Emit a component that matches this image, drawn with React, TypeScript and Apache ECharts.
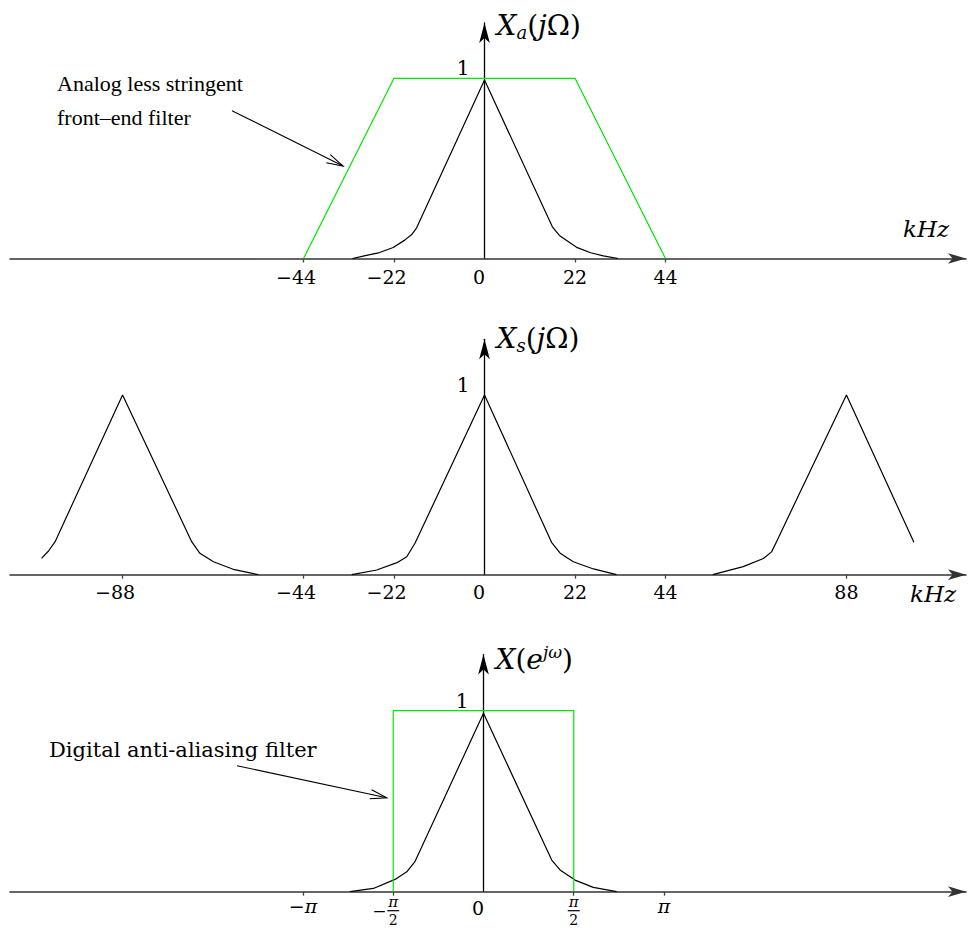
import { useEffect, useRef } from 'react';
import * as echarts from 'echarts';

// ---- spectra (x in kHz for the top two panels, in units of π for the bottom one) ----
const analogSpectrum: [number, number][] = [
  [-32.1, 0], [-28.7, 0.017], [-25.5, 0.033], [-22.2, 0.061], [-19.4, 0.102], [-17.7, 0.133], [-16.5, 0.17],
  [0, 0.99],
  [16.5, 0.176], [18.2, 0.128], [20.6, 0.09], [22.4, 0.062], [25.8, 0.032], [28.9, 0.015], [32.5, 0],
];
const analogFilter: [number, number][] = [[-44, 0], [-22, 1], [22, 1], [44, 0]];

const sampledLeftImage: [number, number][] = [
  [-107.7, 0.091], [-106.0, 0.132], [-104.4, 0.184], [-88, 1], [-71.2, 0.184],
  [-69.2, 0.119], [-65.9, 0.072], [-61.1, 0.03], [-55.0, 0],
];
const sampledBaseband: [number, number][] = [
  [-32.3, 0], [-26.2, 0.026], [-21.3, 0.067], [-18.9, 0.1], [-16.9, 0.175],
  [0, 1],
  [16.3, 0.18], [18.4, 0.12], [21.6, 0.072], [26.5, 0.032], [32.1, 0],
];
const sampledRightImage: [number, number][] = [
  [55.5, 0], [62.9, 0.045], [67.8, 0.09], [69.8, 0.127], [71.0, 0.184], [88, 1], [104.4, 0.18],
];

const digitalSpectrum: [number, number][] = [
  [-0.74, 0], [-0.61, 0.018], [-0.49, 0.068], [-0.425, 0.11], [-0.38, 0.166],
  [0, 0.986],
  [0.378, 0.175], [0.424, 0.12], [0.507, 0.064], [0.608, 0.024], [0.738, 0],
];
const digitalFilter: [number, number][] = [[-0.5, 0], [-0.5, 1], [0.5, 1], [0.5, 0]];

// ---- ticks ----
const analogTicks = [-44, -22, 0, 22, 44];
const sampledTicks = [-88, -44, -22, 0, 22, 44, 88];
const digitalTicks = [-1, -0.5, 0, 0.5, 1];
const digitalTickLabels = ['−π', '−π/2', '0', 'π/2', 'π'];
const peakTicks = [1];

// ---- axis extents ----
const kHzRange: [number, number] = [-115.37, 117.07];
const piRange: [number, number] = [-2.623, 2.673];

const FONT = 'DejaVu Serif';
const GREEN = '#00e800';
const GRID_LEFT = 10;
const GRID_WIDTH = 956;

const numberRich = {
  neg: { fontFamily: FONT, fontSize: 19, lineHeight: 20, color: '#000', padding: [0, 15, 0, 0] },
  pos: { fontFamily: FONT, fontSize: 19, lineHeight: 20, color: '#000' },
  zero: { fontFamily: FONT, fontSize: 19, lineHeight: 20, color: '#000', padding: [0, 11, 0, 0] },
};

const fracRich = {
  zero: { fontFamily: FONT, fontSize: 19, lineHeight: 24, color: '#000', padding: [0, 11, 0, 0] },
  pm: { fontFamily: FONT, fontSize: 19, lineHeight: 20, color: '#000' },
  pi: { fontFamily: FONT, fontSize: 19, lineHeight: 20, color: '#000', fontStyle: 'italic' },
  fn: { fontFamily: FONT, fontSize: 15, lineHeight: 13, width: 12, align: 'center', color: '#000', fontStyle: 'italic' },
  fd: { fontFamily: FONT, fontSize: 14, lineHeight: 14, width: 12, align: 'center', color: '#000' },
  fb: { width: 12, height: 1.2, lineHeight: 4, backgroundColor: '#000', fontSize: 4 },
  fm: { fontFamily: FONT, fontSize: 17, lineHeight: 4, width: 15, align: 'left', color: '#000' },
  fp: { width: 15, lineHeight: 4, fontSize: 4 },
};

const kHzFormatter = (v: number) => {
  if (v < 0) return `{neg|−${-v}}`;
  if (v === 0) return '{zero|0}';
  return `{pos|${v}}`;
};

const piFormatter = (v: number) => {
  const label = digitalTickLabels[digitalTicks.indexOf(v)] ?? '';
  switch (label) {
    case '0':
      return '{zero|0}';
    case '−π':
      return '{pm|−}{pi|π}';
    case 'π':
      return '{pi|π}';
    case 'π/2':
      return '{fn|π}\n{fb| }\n{fd|2}';
    case '−π/2':
      return '{fp| }{fn|π}{fp| }\n{fm|−}{fb| }{fp| }\n{fp| }{fd|2}{fp| }';
    default:
      return label;
  }
};

const nameRich = {
  i: { fontFamily: FONT, fontSize: 28, fontStyle: 'italic', lineHeight: 32, color: '#000' },
  r: { fontFamily: FONT, fontSize: 28, lineHeight: 32, color: '#000' },
  sub: { fontFamily: FONT, fontSize: 18, fontStyle: 'italic', lineHeight: 14, verticalAlign: 'bottom', color: '#000' },
  sup: { fontFamily: FONT, fontSize: 17, fontStyle: 'italic', lineHeight: 14, verticalAlign: 'top', color: '#000' },
};

function xAxisBase(gridIndex: number, range: [number, number], ticks: number[], formatter: (v: number) => string, rich: any, margin: number) {
  return {
    type: 'value',
    gridIndex,
    min: range[0],
    max: range[1],
    axisLine: {
      show: true,
      onZero: true,
      symbol: ['none', 'arrow'],
      symbolSize: [8, 18],
      lineStyle: { color: '#333', width: 1.6 },
    },
    axisTick: {
      show: true,
      customValues: ticks.filter((t) => t !== 0),
      length: 4,
      lineStyle: { color: '#444', width: 1.3 },
    },
    axisLabel: {
      show: true,
      customValues: ticks,
      margin,
      formatter,
      rich,
    },
    splitLine: { show: false },
  };
}

// vertical axis placed on x = 0 of its panel's horizontal axis
function yAxisBase(gridIndex: number, range: [number, number], max: number, name: string, nameGap: number) {
  const zeroOffset = ((0 - range[0]) / (range[1] - range[0])) * GRID_WIDTH;
  return {
    type: 'value',
    gridIndex,
    position: 'left',
    offset: -zeroOffset,
    min: 0,
    max,
    name,
    nameLocation: 'end',
    nameGap,
    nameTextStyle: { align: 'left', verticalAlign: 'middle', padding: [0, 0, 0, 12], rich: nameRich },
    axisLine: {
      show: true,
      onZero: false,
      symbol: ['none', 'arrow'],
      symbolSize: [8, 20],
      lineStyle: { color: '#000', width: 1.3 },
    },
    axisTick: { show: false },
    axisLabel: {
      show: true,
      customValues: peakTicks,
      margin: 15,
      verticalAlign: 'bottom',
      fontFamily: FONT,
      fontSize: 20,
      lineHeight: 20,
      color: '#000',
    },
    splitLine: { show: false },
  };
}

function curve(data: [number, number][], axis: number, color: string, width = 1.2) {
  return {
    type: 'line',
    xAxisIndex: axis,
    yAxisIndex: axis,
    data,
    showSymbol: false,
    symbol: 'none',
    silent: true,
    lineStyle: { color, width },
  };
}

function pointer(x1: number, y1: number, x2: number, y2: number, len = 17, spread = 0.27) {
  const a = Math.atan2(y2 - y1, x2 - x1);
  const back = (s: number) => [x2 - len * Math.cos(a + s), y2 - len * Math.sin(a + s)];
  return [
    { type: 'line', shape: { x1, y1, x2, y2 }, style: { stroke: '#000', lineWidth: 1.1 } },
    {
      type: 'polyline',
      shape: { points: [back(spread), [x2, y2], back(-spread)] },
      style: { stroke: '#000', lineWidth: 1.1, fill: null },
    },
  ];
}

function note(text: string, x: number, y: number, font: string) {
  return { type: 'text', x, y, style: { text, font, fill: '#000', align: 'left', verticalAlign: 'middle' } };
}

export default function App() {
  const ref = useRef<HTMLDivElement>(null);

  useEffect(() => {
    if (!ref.current) return;
    const chart = echarts.init(ref.current, undefined, { renderer: 'svg' });

    chart.setOption({
      animation: false,
      backgroundColor: '#fff',
      grid: [
        { left: GRID_LEFT, top: 23, width: GRID_WIDTH, height: 235.5, outerBoundsMode: 'none', containLabel: false },
        { left: GRID_LEFT, top: 339.3, width: GRID_WIDTH, height: 235.4, outerBoundsMode: 'none', containLabel: false },
        { left: GRID_LEFT, top: 654.6, width: GRID_WIDTH, height: 237.1, outerBoundsMode: 'none', containLabel: false },
      ],
      xAxis: [
        xAxisBase(0, kHzRange, analogTicks, kHzFormatter, numberRich, 8),
        xAxisBase(1, kHzRange, sampledTicks, kHzFormatter, numberRich, 7),
        xAxisBase(2, piRange, digitalTicks, piFormatter, fracRich, 4),
      ],
      yAxis: [
        yAxisBase(0, kHzRange, 1.307, '{i|X}{sub|a}{r|(}{i|j}{r|Ω)}', -2),
        yAxisBase(1, kHzRange, 1.31, '{i|X}{sub|s}{r|(}{i|j}{r|Ω)}', 1),
        yAxisBase(2, piRange, 1.31, '{i|X}{r|(}{i|e}{sup|jω}{r|)}', -5),
      ],
      series: [
        curve(analogSpectrum, 0, '#000'),
        curve(analogFilter, 0, GREEN),
        curve(sampledLeftImage, 1, '#000'),
        curve(sampledBaseband, 1, '#000'),
        curve(sampledRightImage, 1, '#000'),
        curve(digitalSpectrum, 2, '#000'),
        curve(digitalFilter, 2, GREEN),
      ],
      graphic: [
        note('Analog less stringent', 57, 83, '22px "Liberation Serif"'),
        note('front–end filter', 57, 117, '22px "Liberation Serif"'),
        ...pointer(232, 110.7, 343, 166),
        note('Digital anti-aliasing filter', 49, 750, `21px "${FONT}"`),
        ...pointer(237, 765.7, 386.7, 797.7),
        note('kHz', 903, 229, `italic 23px "${FONT}"`),
        note('kHz', 910, 594, `italic 23px "${FONT}"`),
      ],
    });

    return () => chart.dispose();
  }, []);

  return (
    <div
      ref={ref}
      style={{ position: 'absolute', left: 0, top: 0, width: 969, height: 928, background: '#fff' }}
    />
  );
}
